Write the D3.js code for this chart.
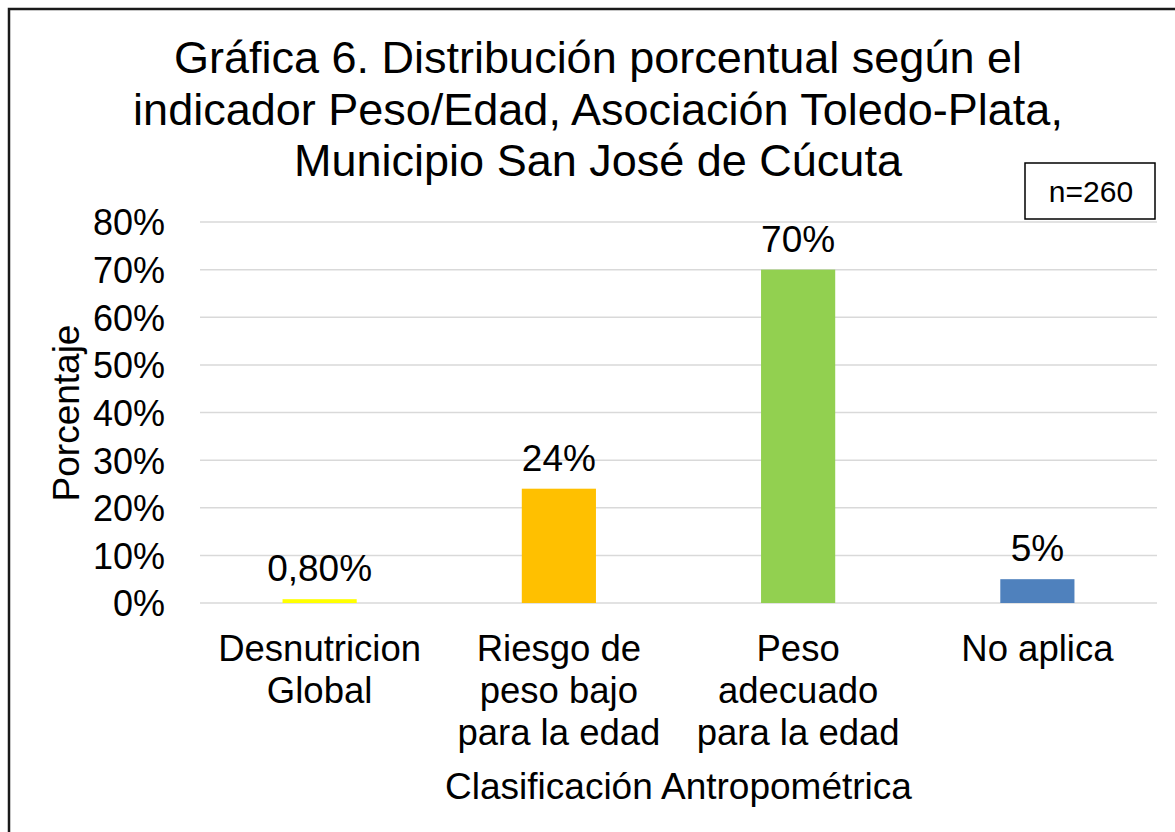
<!DOCTYPE html>
<html>
<head>
<meta charset="utf-8">
<script src="https://cdn.jsdelivr.net/npm/d3@7"></script>
<style>
  body { margin: 0; background: #fff; }
  text { font-family: "Liberation Sans", Arial, sans-serif; fill: #000; }
</style>
</head>
<body>
<script>
// data
const categories = [
  ["Desnutricion", "Global"],
  ["Riesgo de", "peso bajo", "para la edad"],
  ["Peso", "adecuado", "para la edad"],
  ["No aplica"]
];
const values = [0.008, 0.24, 0.70, 0.05];
const valueLabels = ["0,80%", "24%", "70%", "5%"];
const barColors = ["#FFFF00", "#FFC000", "#92D050", "#4F81BD"];
const yTicks = [0, 0.1, 0.2, 0.3, 0.4, 0.5, 0.6, 0.7, 0.8];
const titleLines = [
  "Gráfica 6. Distribución porcentual según el",
  "indicador Peso/Edad, Asociación Toledo-Plata,",
  "Municipio San José de Cúcuta"
];

const W = 1175, H = 832;
const margin = {left: 200, right: 18, top: 222, bottom: 229};
const width = W - margin.left - margin.right;
const height = H - margin.top - margin.bottom;

const svg = d3.select("body").append("svg")
  .attr("width", W)
  .attr("height", H);

// outer frame (only top/left visible in the crop)
svg.append("rect")
  .attr("x", 9).attr("y", 9)
  .attr("width", W + 20).attr("height", H + 20)
  .attr("fill", "none")
  .attr("stroke", "#1a1a1a")
  .attr("stroke-width", 2.5);

const g = svg.append("g")
  .attr("transform", `translate(${margin.left},${margin.top})`);

const x = d3.scaleBand().domain(d3.range(categories.length)).range([0, width]).paddingInner(0.69).paddingOuter(0.345);
const y = d3.scaleLinear().domain([0, 0.8]).range([height, 0]);

// gridlines
g.selectAll(".grid")
  .data(yTicks)
  .enter().append("line")
  .attr("x1", 0).attr("x2", width)
  .attr("y1", d => y(d)).attr("y2", d => y(d))
  .attr("stroke", "#d9d9d9")
  .attr("stroke-width", 1.5);

// y axis labels
const yAxis = d3.axisLeft(y).tickValues(yTicks).tickFormat(d3.format(".0%")).tickSize(0).tickPadding(35);
g.append("g")
  .call(yAxis)
  .call(s => s.select(".domain").remove())
  .selectAll("text")
  .style("font-family", "'Liberation Sans', Arial, sans-serif")
  .style("font-size", "36px")
  .attr("fill", "#000")
  .attr("dy", "0.36em");

// bars
g.selectAll(".bar")
  .data(values)
  .enter().append("rect")
  .attr("x", (d, i) => x(i))
  .attr("width", x.bandwidth())
  .attr("y", d => y(d))
  .attr("height", d => height - y(d))
  .attr("fill", (d, i) => barColors[i]);

// value labels
g.selectAll(".vlabel")
  .data(values)
  .enter().append("text")
  .attr("x", (d, i) => x(i) + x.bandwidth() / 2)
  .attr("y", d => y(d) - 18)
  .attr("text-anchor", "middle")
  .style("font-size", "37px")
  .text((d, i) => valueLabels[i]);

// category labels
categories.forEach((lines, i) => {
  const t = g.append("text")
    .attr("text-anchor", "middle")
    .style("font-size", "36.5px");
  lines.forEach((ln, j) => {
    t.append("tspan")
      .attr("x", x(i) + x.bandwidth() / 2)
      .attr("y", height + 58 + j * 42)
      .text(ln);
  });
});

// x axis title
g.append("text")
  .attr("x", width / 2)
  .attr("y", height + 196)
  .attr("text-anchor", "middle")
  .style("font-size", "37px")
  .text("Clasificación Antropométrica");

// y axis title
svg.append("text")
  .attr("transform", "translate(79,413) rotate(-90)")
  .attr("text-anchor", "middle")
  .style("font-size", "37px")
  .text("Porcentaje");

// chart title
svg.append("text")
  .attr("text-anchor", "middle")
  .style("font-size", "45px")
  .selectAll("tspan")
  .data(titleLines)
  .enter().append("tspan")
  .attr("x", 598)
  .attr("y", (d, i) => 73 + i * 51.5)
  .text(d => d);

// n box
svg.append("rect")
  .attr("x", 1025).attr("y", 163)
  .attr("width", 130).attr("height", 56)
  .attr("fill", "#fff")
  .attr("stroke", "#000")
  .attr("stroke-width", 1.5);
svg.append("text")
  .attr("x", 1091).attr("y", 202)
  .attr("text-anchor", "middle")
  .style("font-size", "30px")
  .text("n=260");
</script>
</body>
</html>
